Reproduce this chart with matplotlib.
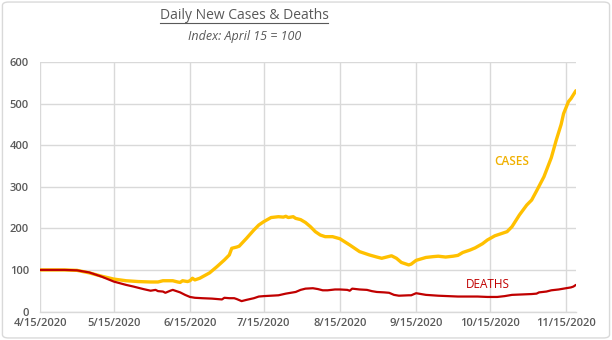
import matplotlib
matplotlib.use("Agg")
import matplotlib.pyplot as plt
from matplotlib.patches import FancyBboxPatch
import numpy as np

# Day offsets from 4/15/2020 and index values (April 15 = 100)
case_days = [0, 10, 15, 20, 25, 30, 35, 40, 45, 48, 50, 54, 56, 57, 58, 60, 61, 62, 63, 65,
             69, 72, 75, 77, 78, 80, 81, 84, 87, 89, 91, 94, 97, 99, 100, 101, 103, 104, 106,
             108, 110, 112, 114, 116, 119, 122, 126, 130, 134, 137, 139, 141, 143, 145, 147,
             150, 151, 153, 157, 160, 162, 165, 168, 170, 172, 175, 177, 180, 182, 185, 188,
             190, 192, 195, 198, 200, 202, 205, 208, 210, 212, 213, 215, 216, 218]
case_vals = [100, 100, 99, 93, 85, 78, 74, 72, 71, 71, 74, 74, 71, 70, 74, 72, 74, 80, 76, 80,
             93, 108, 124, 136, 152, 155, 157, 176, 196, 208, 216, 226, 228, 227, 229, 226, 228,
             224, 221, 214, 204, 192, 184, 180, 180, 175, 160, 144, 136, 131, 128, 131, 134,
             128, 118, 112, 114, 123, 130, 132, 133, 131, 133, 135, 142, 148, 153, 163, 172,
             182, 188, 192, 204, 232, 256, 268, 290, 324, 370, 412, 450, 476, 505, 512, 531]

death_days = [0, 10, 15, 20, 25, 30, 35, 38, 42, 45, 47, 48, 50, 51, 53, 54, 56, 57, 59, 61,
              63, 66, 70, 74, 75, 77, 79, 80, 82, 84, 87, 89, 91, 94, 97, 100, 102, 104, 106,
              108, 111, 113, 115, 117, 120, 122, 125, 126, 127, 130, 133, 135, 137, 140, 142,
              144, 146, 150, 151, 153, 155, 157, 162, 166, 170, 174, 178, 182, 186, 189, 192,
              196, 200, 202, 203, 206, 208, 211, 214, 216, 217, 218]
death_vals = [100, 100, 99, 94, 84, 72, 64, 60, 54, 50, 52, 49, 48, 45, 50, 52, 48, 46, 40, 35,
              33, 32, 31, 29, 33, 32, 32, 30, 25, 28, 32, 36, 37, 38, 39, 43, 45, 47, 52, 55, 56,
              54, 51, 51, 53, 53, 52, 50, 55, 53, 52, 49, 47, 46, 45, 40, 38, 39, 39, 44, 42, 40,
              38, 37, 36, 36, 36, 35, 35, 37, 40, 41, 42, 43, 46, 48, 51, 53, 56, 58, 60, 64]

tick_days = [0, 30, 61, 91, 122, 153, 183, 214]
tick_labels = ["4/15/2020", "5/15/2020", "6/15/2020", "7/15/2020",
               "8/15/2020", "9/15/2020", "10/15/2020", "11/15/2020"]
y_ticks = [0, 100, 200, 300, 400, 500, 600]

plt.rcParams['font.family'] = ['Open Sans', 'DejaVu Sans']
text_gray = "#595959"
grid_gray = "#D9D9D9"
case_color = "#FFC000"
death_color = "#C00000"

fig = plt.figure(figsize=(6.12, 3.40), dpi=100)
fig.patches.append(FancyBboxPatch((0.004, 0.006), 0.992, 0.988,
                                  boxstyle="round,pad=0,rounding_size=0.01",
                                  transform=fig.transFigure, facecolor="white",
                                  edgecolor="#D9D9D9", linewidth=1.0, zorder=-10))

ax = fig.add_axes([0.0654, 0.0838, 0.8756, 0.7338])
ax.set_facecolor("none")

ax.plot(case_days, case_vals, color=case_color, linewidth=2.4, solid_joinstyle="round",
        solid_capstyle="round", zorder=3)
ax.plot(death_days, death_vals, color=death_color, linewidth=1.6, solid_joinstyle="round",
        solid_capstyle="round", zorder=4)

ax.set_xlim(0, 218)
ax.set_ylim(0, 600)
ax.set_xticks(tick_days)
ax.set_xticklabels(tick_labels)
ax.set_yticks(y_ticks)
ax.grid(True, color=grid_gray, linewidth=1.0, zorder=0)
ax.set_axisbelow(True)
for s in ["top", "right", "left"]:
    ax.spines[s].set_visible(False)
ax.spines["bottom"].set_color(grid_gray)
ax.spines["bottom"].set_linewidth(1.0)
ax.tick_params(length=0, colors=text_gray, labelsize=8)
ax.tick_params(axis="x", pad=5)
ax.tick_params(axis="y", pad=8)
for lbl in ax.get_xticklabels() + ax.get_yticklabels():
    lbl.set_fontweight("semibold")
    lbl.set_color(text_gray)

ax.text(192, 360, "CASES", color="#F0B000", fontsize=8.5, fontweight="semibold",
        ha="center", va="center")
ax.text(182, 66, "DEATHS", color="#C00000", fontsize=8.5,
        ha="center", va="center")

fig.text(0.399, 0.953, "Daily New Cases & Deaths", color=text_gray, fontsize=10,
         ha="center", va="center")
# underline for the title
fig.add_artist(plt.Line2D([0.262, 0.536], [0.931, 0.931], transform=fig.transFigure,
                          color=text_gray, linewidth=0.8))
fig.text(0.399, 0.893, "Index: April 15 = 100", color=text_gray, fontsize=9,
         style="italic", ha="center", va="center")

fig.savefig("out.png", dpi=100, facecolor="white")
